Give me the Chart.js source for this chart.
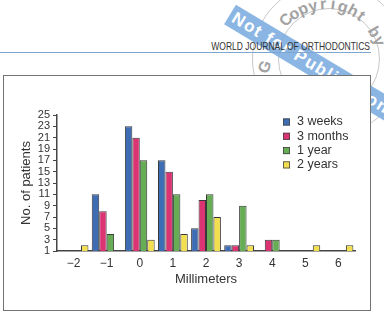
<!DOCTYPE html>
<html>
<head>
<meta charset="utf-8">
<script src="https://cdn.jsdelivr.net/npm/chart.js@4.4.0/dist/chart.umd.min.js"></script>
<style>
html, body { margin: 0; padding: 0; background: #fff; }
body { width: 384px; height: 314px; position: relative; overflow: hidden; font-family: "Liberation Sans", Arial, sans-serif; }
#rule { position: absolute; left: 0; top: 52px; width: 371px; height: 1px; background: #7fa6d0; z-index: 4; }
#hdr { position: absolute; right: 14px; top: 41px; font-size: 10.5px; line-height: 10.5px; color: #333; white-space: nowrap; transform: scaleX(0.81); transform-origin: right top; z-index: 5; }
#frame { position: absolute; left: 3px; top: 75px; width: 368px; height: 236px; box-sizing: border-box; border: 1.3px solid #737373; background: #fff; z-index: 2; }
#wrap { position: absolute; left: 4px; top: 76px; width: 366px; height: 234px; z-index: 3; }
#wm { position: absolute; left: 0; top: 0; width: 384px; height: 314px; pointer-events: none; z-index: 1; }
.ring { position: absolute; border: 1px solid #c8c8c8; border-radius: 50%; }
#band { position: absolute; left: 230px; top: 3px; width: 210px; height: 23px; background: rgba(126, 174, 224, 0.9); transform: rotate(31deg); transform-origin: left center; color: #fff; font: bold 17px "Liberation Sans", Arial, sans-serif; line-height: 23px; padding-left: 4px; box-sizing: border-box; letter-spacing: 1.5px; white-space: nowrap; }
.stamp { position: absolute; color: #a2a2a2; font: bold 16px "Liberation Sans", Arial, sans-serif; width: 14px; text-align: center; line-height: 16px; }
</style>
</head>
<body>
<div id="wm">
  <div class="ring" style="left:252px;top:-18px;width:152px;height:152px;"></div>
  <div class="ring" style="left:278px;top:8px;width:100px;height:100px;"></div>
  <div id="band">Not for Publication</div>
</div>
<div id="frame"></div>
<div id="wrap"><canvas id="chart"></canvas></div>
<div id="rule"></div>
<div id="hdr">WORLD JOURNAL OF ORTHODONTICS</div>
<script>
const categories = ['\u22122', '\u22121', '0', '1', '2', '3', '4', '5', '6'];
const weeks3  = [null, 11, 23, 17, 5, 2, null, null, null];
const months3 = [null, 8, 21, 15, 10, 2, 3, null, null];
const year1   = [null, 4, 17, 11, 11, 9, 3, null, null];
const years2  = [2, null, 3, 4, 7, 2, null, 2, 2];
const seriesNames = ['3 weeks', '3 months', '1 year', '2 years'];
const yMin = 1, yMax = 25, yStep = 2;

// stamp lettering round the ring
const stampText = 'Copyright by';
const wm = document.getElementById('wm');
for (let i = 0; i < stampText.length; i++) {
    const deg = -45 + i * 10.5;
    const th = deg * Math.PI / 180;
    const el = document.createElement('div');
    el.className = 'stamp';
    el.textContent = stampText[i];
    el.style.left = (326 + 56 * Math.sin(th) - 7) + 'px';
    el.style.top = (60 - 56 * Math.cos(th) - 8) + 'px';
    el.style.transform = 'rotate(' + deg + 'deg)';
    wm.appendChild(el);
}
const q = document.createElement('div');
q.className = 'stamp';
q.textContent = 'G';
q.style.left = '258px'; q.style.top = '59px';
q.style.transform = 'rotate(-70deg)';
wm.appendChild(q);

const legendInside = {
    id: 'legendInside',
    afterDraw(chart) {
        const { ctx, chartArea } = chart;
        const x0 = chartArea.right - 72, y0 = chartArea.top + 7;
        ctx.save();
        ctx.font = '12.5px "Liberation Sans", Arial, sans-serif';
        ctx.textBaseline = 'middle';
        chart.data.datasets.forEach((ds, i) => {
            const y = y0 + i * 14.3;
            ctx.fillStyle = ds.backgroundColor;
            ctx.fillRect(x0, y - 3.5, 7, 7);
            ctx.strokeStyle = '#444';
            ctx.lineWidth = 0.8;
            ctx.strokeRect(x0 + 0.4, y - 3.1, 6.2, 6.2);
            ctx.fillStyle = '#333';
            ctx.fillText(ds.label, x0 + 14, y);
        });
        ctx.restore();
    }
};

const colors = ['#3f6db4', '#dc3373', '#67ad55', '#f2df4f'];
const values = [weeks3, months3, year1, years2];

new Chart(document.getElementById('chart'), {
    type: 'bar',
    data: {
        labels: categories,
        datasets: values.map((v, i) => ({
            label: seriesNames[i],
            data: v,
            backgroundColor: colors[i],
            borderColor: '#3a3a3a',
            borderWidth: 1,
            categoryPercentage: 0.9,
            barPercentage: 1
        }))
    },
    options: {
        responsive: true,
        maintainAspectRatio: false,
        animation: false,
        layout: { padding: { top: 39, right: 15, left: 0, bottom: 0 } },
        plugins: { legend: { display: false }, tooltip: { enabled: false } },
        scales: {
            x: {
                grid: { display: false, drawTicks: false },
                border: { display: true, color: '#444', width: 1.5 },
                ticks: { color: '#333', font: { size: 12, family: '"Liberation Sans", Arial, sans-serif' }, padding: 5, maxRotation: 0 },
                title: { display: true, text: 'Millimeters', color: '#333', font: { size: 13, family: '"Liberation Sans", Arial, sans-serif' }, padding: { top: 0, bottom: 23 } },
                afterFit: s => { s.height = 59; }
            },
            y: {
                min: yMin,
                max: yMax,
                beginAtZero: false,
                grid: { drawOnChartArea: false, drawTicks: true, tickLength: 4, color: '#444' },
                border: { display: true, color: '#444', width: 1.5 },
                ticks: { stepSize: yStep, color: '#333', font: { size: 11, family: '"Liberation Sans", Arial, sans-serif' }, padding: 3, autoSkip: false },
                title: { display: true, text: 'No. of patients', color: '#333', font: { size: 13, family: '"Liberation Sans", Arial, sans-serif' }, padding: { top: 15, bottom: 0 } },
                afterFit: s => { s.width = 53; }
            }
        }
    },
    plugins: [legendInside]
});
</script>
</body>
</html>
